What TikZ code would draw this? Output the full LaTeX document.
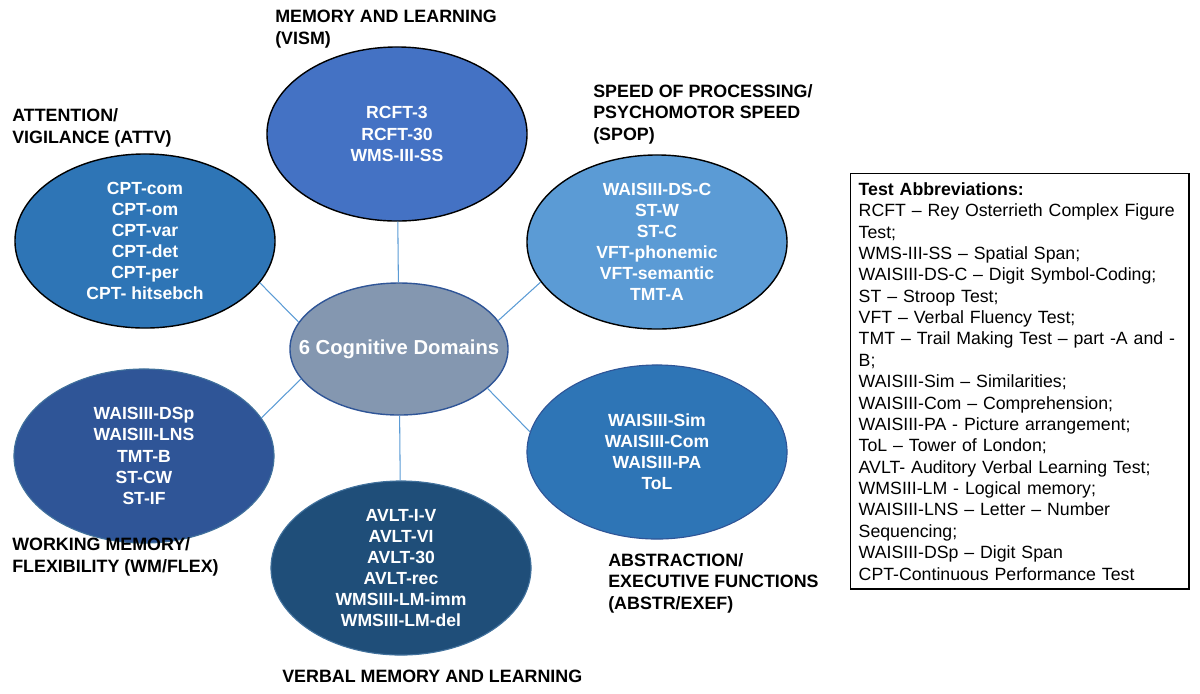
\documentclass[tikz,border=0pt]{standalone}
\usepackage{fontspec}
\setmainfont{Liberation Sans}
\usetikzlibrary{shapes.geometric}

\definecolor{attvblue}{HTML}{2E75B6}
\definecolor{vismblue}{HTML}{4472C4}
\definecolor{spopblue}{HTML}{5B9BD5}
\definecolor{hubgray}{HTML}{8497B0}
\definecolor{hubedge}{HTML}{2F5597}
\definecolor{wmblue}{HTML}{2F5597}
\definecolor{verbblue}{HTML}{1F4E79}
\definecolor{softedge}{HTML}{41719C}
\definecolor{linkblue}{HTML}{5B9BD5}

\tikzset{
  domainoval/.style={ellipse, draw=black, line width=1pt, minimum width=6.5cm, minimum height=4.35cm, inner sep=0pt},
  soft/.style={draw=softedge, line width=0.8pt},
  items/.style={text=white, align=center, font=\bfseries\fontsize{12.5}{15}\selectfont},
  heading/.style={anchor=base west, inner sep=0pt, align=left, font=\bfseries\fontsize{12.7}{15}\selectfont},
  link/.style={draw=linkblue, line width=0.75pt}
}

\begin{document}
\begin{tikzpicture}[x=0.025cm, y=-0.025cm]
  \useasboundingbox (0,0) rectangle (1200,693);

  % Centre
  \node[domainoval, draw=hubedge, line width=1pt, fill=hubgray, minimum width=5.45cm, minimum height=3.3cm,
        label={[items, font=\bfseries\fontsize{14.4}{16}\selectfont]center:6 Cognitive Domains}] (cog) at (399,349) {};

  % Top row
  \node[domainoval, fill=attvblue,
        label={[items]center:{CPT-com\\CPT-om\\CPT-var\\CPT-det\\CPT-per\\CPT- hitsebch}}] (attv) at (145,241) {};
  \node[heading] (attvhead) at (12,143) {ATTENTION/\\VIGILANCE (ATTV)};

  \node[domainoval, fill=vismblue,
        label={[items]center:{RCFT-3\\RCFT-30\\WMS-III-SS}}] (vism) at (397,134) {};
  \node[heading] (vismhead) at (275,44) {MEMORY AND LEARNING\\(VISM)};

  \node[domainoval, fill=spopblue,
        label={[items]center:{WAISIII-DS-C\\ST-W\\ST-C\\VFT-phonemic\\VFT-semantic\\TMT-A}}] (spop) at (657,242) {};
  \node[heading] (spophead) at (593,140) {SPEED OF PROCESSING/\\PSYCHOMOTOR SPEED\\(SPOP)};

  % Bottom row
  \node[domainoval, soft, fill=wmblue,
        label={[items]center:{WAISIII-DSp\\WAISIII-LNS\\TMT-B\\ST-CW\\ST-IF}}] (wm) at (144,456) {};
  \node[heading] (wmhead) at (12,572) {WORKING MEMORY/\\FLEXIBILITY (WM/FLEX)};

  \node[domainoval, soft, fill=verbblue,
        label={[items]center:{AVLT-I-V\\AVLT-VI\\AVLT-30\\AVLT-rec\\WMSIII-LM-imm\\WMSIII-LM-del}}] (verb) at (401,568) {};
  \node[heading] (verbhead) at (282,682) {VERBAL MEMORY AND LEARNING};

  \node[domainoval, soft, draw=hubedge, fill=attvblue,
        label={[items]center:{WAISIII-Sim\\WAISIII-Com\\WAISIII-PA\\ToL}}] (abstr) at (657,452) {};
  \node[heading] (abstrhead) at (608,609) {ABSTRACTION/\\EXECUTIVE FUNCTIONS\\(ABSTR/EXEF)};

  % Connectors
  \draw[link] (cog.165) -- (attv.-20);
  \draw[link] (cog) -- (vism);
  \draw[link] (cog.16) -- (spop.-161);
  \draw[link] (cog.-163) -- (wm.18);
  \draw[link] (cog) -- (verb);
  \draw[link] (cog.-24) -- (abstr.171);

  % Abbreviations
  \node[draw, line width=1pt, anchor=north west, text width=8.05cm, inner xsep=0.2cm, inner ysep=6.2pt,
        align=left, font=\fontsize{12.6}{15.2}\selectfont] (abbrev) at (850,173)
  {\textbf{Test Abbreviations:}\\
   RCFT – Rey Osterrieth Complex Figure\\
   Test;\\
   WMS-III-SS – Spatial Span;\\
   WAISIII-DS-C – Digit Symbol-Coding;\\
   ST – Stroop Test;\\
   VFT – Verbal Fluency Test;\\
   TMT – Trail Making Test – part -A and -\\
   B;\\
   WAISIII-Sim – Similarities;\\
   WAISIII-Com – Comprehension;\\
   WAISIII-PA - Picture arrangement;\\
   ToL – Tower of London;\\
   AVLT- Auditory Verbal Learning Test;\\
   WMSIII-LM - Logical memory;\\
   WAISIII-LNS – Letter – Number\\
   Sequencing;\\
   WAISIII-DSp – Digit Span\\
   CPT-Continuous Performance Test};
\end{tikzpicture}
\end{document}
